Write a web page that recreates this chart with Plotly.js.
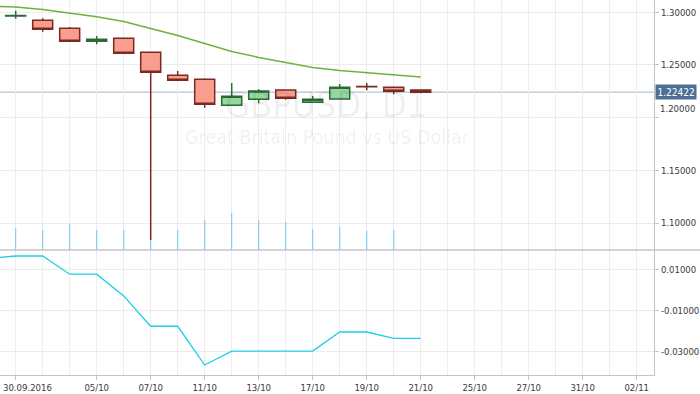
<!DOCTYPE html>
<html>
<head>
<meta charset="utf-8">
<script src="https://cdn.plot.ly/plotly-3.0.1.min.js"></script>
<style>html,body{margin:0;padding:0;background:#fff;}#chart{width:700px;height:394px;}</style>
</head>
<body>
<div id="chart"></div>
<script>
// ---- data (daily GBPUSD, D1) ----
const dates = ['2016-09-30','2016-10-03','2016-10-04','2016-10-05','2016-10-06','2016-10-07','2016-10-10','2016-10-11',
               '2016-10-12','2016-10-13','2016-10-14','2016-10-17','2016-10-18','2016-10-19','2016-10-20','2016-10-21'];
const openP  = [1.2966,1.2924,1.2848,1.2725,1.2753,1.2620,1.2402,1.2364,1.2117,1.2174,1.2263,1.2146,1.2177,1.2296,1.2288,1.2263];
const highP  = [1.3015,1.2943,1.2860,1.2775,1.2756,1.2625,1.2443,1.2374,1.2329,1.2269,1.2265,1.2206,1.2320,1.2329,1.2290,1.2265];
const lowP   = [1.2939,1.2816,1.2722,1.2696,1.2609,1.0839,1.2352,1.2095,1.2115,1.2136,1.2171,1.2144,1.2175,1.2260,1.2222,1.2231];
const closeP = [1.2969,1.2839,1.2725,1.2744,1.2611,1.2431,1.2355,1.2127,1.2203,1.2253,1.2184,1.2174,1.2288,1.2293,1.2250,1.22422];
const volumes = [22000,20000,26000,20000,20000,10000,20000,30000,37000,30000,28000,21000,23000,19000,20000];
// moving average and lower indicator start one bar earlier (2016-09-29)
const maValues  = [1.30598,1.30503,1.30266,1.29934,1.29582,1.29127,1.28463,1.27798,1.27039,1.26282,1.25720,1.25255,1.24762,1.24477,1.24287,1.24050,1.23860];
const indValues = [0.0154,0.0165,0.0165,0.0076,0.0076,-0.0030,-0.0178,-0.0178,-0.0367,-0.0299,-0.0299,-0.0299,-0.0299,-0.0206,-0.0206,-0.0237,-0.0237];
const lastPrice = 1.22422;
// x tick labels (trading-day index -> label)
const xTickIdx   = [0,3,5,7,9,11,13,15,17,19,21,23];
const xTickText  = ['','05/10','07/10','11/10','13/10','17/10','19/10','21/10','25/10','27/10','31/10','02/11'];
const firstLabel = '30.09.2016';
const yTickVals  = [1.10,1.15,1.20,1.25,1.30];
const yTickText  = ['1.10000','1.15000','','1.25000','1.30000'];
const y2TickVals = [0.01,-0.01,-0.03];
const y2TickText = ['0.01000','-0.01000','-0.03000'];
const symbolTitle = 'GBPUSD, D1';
const symbolDesc  = 'Great Britain Pound vs US Dollar';

// ---- build ----
const xIdx = dates.map((d,i)=>i);
const xLine = maValues.map((v,i)=>i-1);
const xVol = volumes.map((v,i)=>i);

const tickFont = {family:'Liberation Sans Narrow, DejaVu Sans Condensed, Liberation Sans, sans-serif', size:9.5, color:'#3a3a3a'};
const wmFont = 'DejaVu Sans Condensed, DejaVu Sans, sans-serif';
const grid = '#ececec';
const axisCol = '#c4c4c4';

const traces = [
  {type:'candlestick', x:xIdx, open:openP, high:highP, low:lowP, close:closeP, xaxis:'x', yaxis:'y',
   increasing:{line:{color:'#2b6a33',width:1.5}, fillcolor:'#96d6a0'},
   decreasing:{line:{color:'#7b2a22',width:1.5}, fillcolor:'#f99d8f'},
   whiskerwidth:0, hoverinfo:'skip'},
  {type:'scatter', mode:'lines', x:xLine, y:maValues, xaxis:'x', yaxis:'y', line:{color:'#6ab43c',width:1.5}, hoverinfo:'skip'},
  {type:'bar', x:xVol, y:volumes, xaxis:'x', yaxis:'y3', width:0.04, marker:{color:'#7ec8f0', line:{width:0}}, hoverinfo:'skip'},
  {type:'scatter', mode:'lines', x:xLine, y:indValues, xaxis:'x', yaxis:'y2', line:{color:'#1ccfe8',width:1.3}, hoverinfo:'skip'}
];

const split = 125/375;
const layout = {
  width:700, height:394,
  margin:{l:0, r:46, t:0, b:19, pad:0},
  paper_bgcolor:'#fff', plot_bgcolor:'#fff',
  showlegend:false,
  boxgap:0.26, boxgroupgap:0,
  xaxis:{domain:[0,1], range:[-0.581,23.64], anchor:'y2',
         tickmode:'array', tickvals:xTickIdx, ticktext:xTickText,
         showgrid:true, gridcolor:grid, gridwidth:1,
         minor:{tick0:0, dtick:1, showgrid:true, gridcolor:grid, gridwidth:1, ticks:''},
         ticks:'outside', ticklen:4, tickcolor:axisCol, showline:true, linecolor:axisCol, linewidth:1,
         zeroline:false, rangeslider:{visible:false}, tickfont:tickFont, fixedrange:true},
  yaxis:{domain:[split,1], range:[1.07443,1.31167], anchor:'x', side:'right',
         tickmode:'array', tickvals:yTickVals, ticktext:yTickText,
         showgrid:true, gridcolor:grid, ticks:'outside', ticklen:4, tickcolor:axisCol,
         showline:true, linecolor:axisCol, linewidth:1, zeroline:false, tickfont:tickFont},
  yaxis2:{domain:[0,split], range:[-0.04158,0.01942], anchor:'x', side:'right',
         tickmode:'array', tickvals:y2TickVals, ticktext:y2TickText,
         showgrid:true, gridcolor:grid, ticks:'outside', ticklen:4, tickcolor:axisCol,
         showline:true, linecolor:axisCol, linewidth:1, zeroline:false, tickfont:tickFont},
  yaxis3:{overlaying:'y', range:[0,250000], visible:false, side:'right', anchor:'x'},
  shapes:[
    {type:'line', xref:'paper', x0:0, x1:1, yref:'y', y0:lastPrice, y1:lastPrice, line:{color:'#a2b4ca', width:1}, layer:'below'},
    {type:'line', xref:'paper', x0:0, x1:700/654, yref:'paper', y0:split, y1:split, line:{color:'#c4c4c4', width:1.5}}
  ],
  annotations:[
    {xref:'paper', yref:'paper', x:326/654, y:1-103.5/375, text:symbolTitle, showarrow:false, height:30,
     font:{family:wmFont, size:36, color:'rgba(0,0,0,0.065)'}, xanchor:'center', yanchor:'middle'},
    {xref:'paper', yref:'paper', x:327/654, y:1-136.5/375, text:symbolDesc, showarrow:false, height:18,
     font:{family:wmFont, size:19.5, color:'rgba(0,0,0,0.065)'}, xanchor:'center', yanchor:'middle'},
    {xref:'paper', yref:'y', x:1, y:lastPrice, text:String(lastPrice.toFixed(5)), showarrow:false,
     xanchor:'left', yanchor:'middle', xshift:1, bgcolor:'#4d6f96', borderpad:1.5,
     font:{family:tickFont.family, size:10, color:'#ffffff'}},
    {xref:'paper', yref:'y', x:1, y:1.20, text:'1.20000', showarrow:false,
     xanchor:'left', yanchor:'middle', xshift:4, yshift:9.5, font:tickFont},
    {xref:'paper', yref:'paper', x:0, y:0, text:firstLabel, showarrow:false,
     xanchor:'left', yanchor:'top', xshift:1, yshift:-5, font:tickFont}
  ]
};

Plotly.newPlot('chart', traces, layout, {staticPlot:true, displayModeBar:false});
</script>
</body>
</html>
